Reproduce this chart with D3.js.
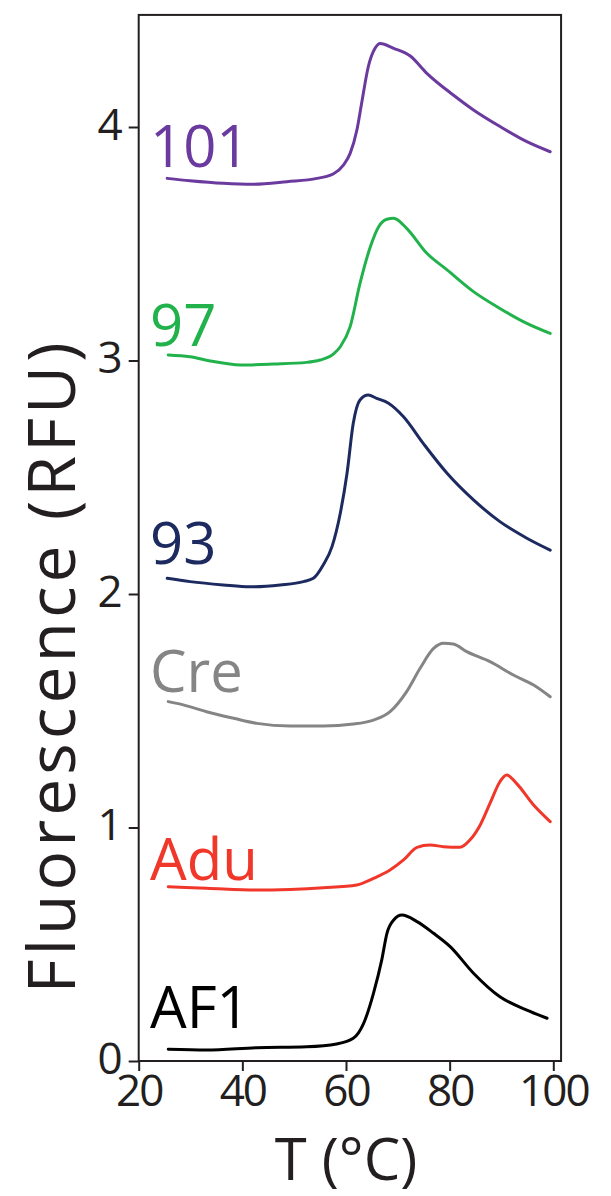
<!DOCTYPE html>
<meta charset="utf-8">
<style>
    body {
        margin: 0;
        background: #fff;
        overflow: hidden;
    }
    text {
        font-family: "Open Sans", "Noto Sans", sans-serif;
        fill: #231f20;
    }
</style>
<svg id="canvas" width="611" height="1196"></svg>
<script src="https://d3js.org/d3.v7.min.js"></script>
<script>

    // melt curves, [T in °C, fluorescence in RFU]
    var s101 = [[25.5, 3.78], [29.9, 3.77], [36.3, 3.759], [42.1, 3.755], [48.6, 3.766], [54.4, 3.78], [57.6, 3.80],
        [59.5, 3.837], [60.8, 3.887], [62.1, 3.987], [63.0, 4.10], [64.3, 4.258], [65.6, 4.337], [66.6, 4.358],
        [69.2, 4.337], [72.4, 4.304], [75.6, 4.23], [80.7, 4.137], [84.6, 4.073], [89.8, 4.001], [94.9, 3.937], [99.4, 3.894]];
    var s97 = [[25.7, 3.024], [29.9, 3.016], [33.8, 2.998], [39.6, 2.981], [46.0, 2.985], [52.4, 2.992], [55.0, 3.002],
        [57.6, 3.028], [58.9, 3.059], [60.8, 3.145], [62.7, 3.33], [64.7, 3.487], [66.3, 3.573], [67.9, 3.605],
        [69.2, 3.609], [71.7, 3.566], [75.6, 3.459], [79.5, 3.388], [84.6, 3.295], [89.7, 3.223], [94.9, 3.159], [99.4, 3.116]];
    var s93 = [[25.5, 2.067], [29.9, 2.053], [36.3, 2.039], [41.5, 2.031], [47.3, 2.039], [51.8, 2.053], [53.7, 2.067],
        [55.6, 2.124], [57.3, 2.203], [58.9, 2.346], [60.2, 2.517], [61.4, 2.731], [62.7, 2.831], [64.3, 2.852],
        [65.9, 2.838], [68.2, 2.817], [71.1, 2.759], [74.9, 2.645], [79.5, 2.517], [84.6, 2.403], [89.7, 2.31], [94.9, 2.239], [99.4, 2.188]];
    var sCre = [[25.7, 1.539], [28.6, 1.525], [33.1, 1.496], [38.3, 1.468], [42.8, 1.446], [49.2, 1.435], [55.6, 1.435],
        [61.4, 1.443], [65.3, 1.46], [68.5, 1.496], [71.7, 1.582], [74.3, 1.682], [76.9, 1.767], [78.8, 1.789],
        [80.7, 1.786], [83.3, 1.753], [87.8, 1.71], [92.3, 1.653], [96.2, 1.61], [99.4, 1.56]];
    var sAdu = [[25.7, 0.746], [33.1, 0.74], [42.8, 0.732], [49.2, 0.735], [55.6, 0.742], [62.1, 0.754], [65.3, 0.782],
        [68.5, 0.818], [71.1, 0.861], [73.7, 0.915], [76.2, 0.925], [78.8, 0.918], [82.0, 0.915], [83.9, 0.946],
        [85.9, 1.011], [87.8, 1.104], [89.7, 1.196], [91.0, 1.225], [92.9, 1.189], [96.2, 1.096], [99.4, 1.025]];
    var sAF1 = [[25.7, 0.05], [33.1, 0.047], [42.8, 0.057], [52.4, 0.061], [58.2, 0.073], [61.4, 0.097], [63.4, 0.161],
        [65.3, 0.29], [66.9, 0.433], [67.9, 0.547], [69.2, 0.604], [70.8, 0.625], [73.7, 0.597], [76.9, 0.547],
        [80.1, 0.49], [84.6, 0.376], [89.7, 0.275], [94.9, 0.218], [98.8, 0.183]];

    var names = ["101", "97", "93", "Cre", "Adu", "AF1"];
    var series = [s101, s97, s93, sCre, sAdu, sAF1];
    var colors = ["#6b3a9e", "#22b24c", "#1c2a60", "#858585", "#f0372a", "#000000"];
    // where each name sits, in RFU (text baseline)
    var labelAt = [3.83, 3.06, 2.13, 1.58, 0.775, 0.143];

    var xTicks = [20, 40, 60, 80, 100];
    var yTicks = [0, 1, 2, 3, 4];

    var svg = d3.select("svg");

    var x = d3.scaleLinear().domain([20, 100]).range([138.7, 553.3]);
    var y = d3.scaleLinear().domain([0, 4]).range([1061, 127]);

    // frame
    svg.append("rect")
        .attr("x", x(20))
        .attr("y", y(4.48))
        .attr("width", x(101.5) - x(20))
        .attr("height", y(0) - y(4.48))
        .attr("fill", "none")
        .attr("stroke", "#231f20")
        .attr("stroke-width", 2);

    var xAxis = svg.append("g")
        .attr("transform", "translate(0," + y(0) + ")")
        .call(d3.axisBottom(x).tickValues(xTicks).tickSize(10).tickPadding(2).tickFormat(d3.format("d")));

    var yAxis = svg.append("g")
        .attr("transform", "translate(" + x(20) + ",0)")
        .call(d3.axisLeft(y).tickValues(yTicks).tickSize(10).tickPadding(6).tickFormat(d3.format("d")));

    [xAxis, yAxis].forEach(function(g) {
        g.select(".domain").remove();
        g.selectAll("line").attr("stroke", "#231f20").attr("stroke-width", 2);
        g.selectAll("text").attr("font-family", "Open Sans").attr("font-size", 44).attr("fill", "#231f20");
    });
    yAxis.selectAll("text").attr("dy", "0.28em");
    xAxis.selectAll("text").attr("dy", "0.74em").attr("letter-spacing", -2);

    var line = d3.line()
        .x(function(d) { return x(d[0]); })
        .y(function(d) { return y(d[1]); })
        .curve(d3.curveMonotoneX);

    svg.append("g")
        .selectAll("path")
        .data(series)
        .enter().append("path")
        .attr("d", line)
        .attr("fill", "none")
        .attr("stroke", function(d, i) { return colors[i]; })
        .attr("stroke-width", 3)
        .attr("stroke-linejoin", "round")
        .attr("stroke-linecap", "round");

    svg.append("g")
        .selectAll("text")
        .data(names)
        .enter().append("text")
        .attr("x", 150)
        .attr("y", function(d, i) { return y(labelAt[i]); })
        .attr("font-size", 58)
        .style("fill", function(d, i) { return colors[i]; })
        .text(function(d) { return d; });

    svg.append("text")
        .attr("x", (x(20) + x(100)) / 2)
        .attr("y", 1180)
        .attr("text-anchor", "middle")
        .attr("font-size", 58)
        .text("T (°C)");

    svg.append("text")
        .attr("transform", "translate(75,666) rotate(-90)")
        .attr("text-anchor", "middle")
        .attr("font-size", 66)
        .attr("letter-spacing", 4)
        .text("Fluorescence (RFU)");

</script>
